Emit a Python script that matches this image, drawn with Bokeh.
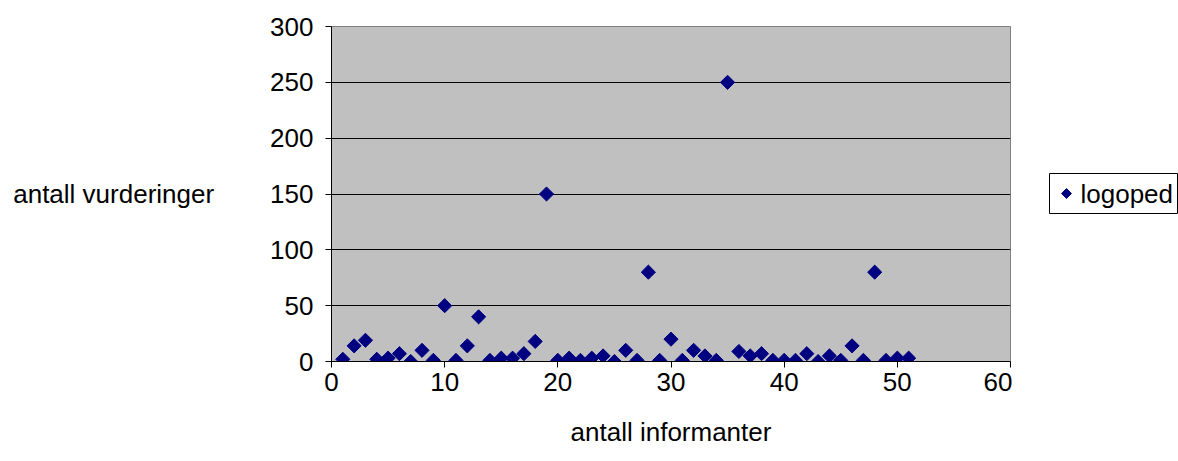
import math
from bokeh.plotting import figure
from bokeh.layouts import row
from bokeh.models import ColumnDataSource, FixedTicker, Range1d
from bokeh.core.properties import value
from bokeh.embed import file_html
from bokeh.resources import INLINE

# informant number and number of assessments per informant
informanter = list(range(1, 52))
vurderinger = [2, 14, 19, 2, 3, 7, 0, 10, 1, 50,
               1, 14, 40, 1, 3, 3, 7, 18, 150, 1,
               3, 1, 3, 5, 0, 10, 1, 80, 1, 20,
               1, 10, 5, 1, 250, 9, 5, 7, 1, 1,
               1, 7, 0, 5, 1, 14, 1, 80, 1, 3, 3]
serie_navn = "logoped"
x_ticks = [0, 10, 20, 30, 40, 50, 60]
y_ticks = [0, 50, 100, 150, 200, 250, 300]

FONT = "Liberation Sans"
FS = "26px"
NAVY = "#000080"
TOP, BOTTOM = 26, 100

src = ColumnDataSource(data=dict(x=informanter, y=vurderinger))

# main scatter chart
p = figure(width=1012, height=461, output_backend="svg", toolbar_location=None,
           x_range=Range1d(0, 60), y_range=Range1d(0, 300),
           min_border_left=331, min_border_right=2,
           min_border_top=TOP, min_border_bottom=BOTTOM)
p.background_fill_color = "#C0C0C0"
p.border_fill_color = "white"
p.outline_line_color = "#808080"
p.outline_line_width = 1

# square markers turned 45 degrees give the diamond shape
r = p.scatter("x", "y", source=src, marker="square", size=10, angle=math.pi / 4,
              fill_color=NAVY, line_color=NAVY)

for ax in (p.xaxis[0], p.yaxis[0]):
    ax.axis_line_color = "black"
    ax.major_tick_line_color = "black"
    ax.major_tick_out = 6
    ax.major_tick_in = 0
    ax.minor_tick_line_color = None
    ax.major_label_text_font = FONT
    ax.major_label_text_font_size = FS
    ax.major_label_text_color = "black"
    ax.axis_label_text_font = FONT
    ax.axis_label_text_font_size = FS
    ax.axis_label_text_font_style = "normal"
    ax.axis_label_text_color = "black"

p.xaxis.ticker = FixedTicker(ticks=x_ticks)
p.yaxis.ticker = FixedTicker(ticks=y_ticks)
p.xaxis.major_label_standoff = 5
p.yaxis.major_label_standoff = 12

p.xaxis.axis_label = "antall informanter"
p.xaxis.axis_label_standoff = 23

p.yaxis.axis_label = "antall vurderinger"
p.yaxis.axis_label_orientation = "horizontal"
p.yaxis.axis_label_standoff = 53
p.yaxis.axis_label_text_baseline = "alphabetic"

p.xgrid.grid_line_color = None
p.ygrid.grid_line_color = "black"
p.ygrid.grid_line_width = 1

# legend panel to the right of the chart; its frame shares the chart's
# top/bottom borders, so y runs in page pixels from TOP to 461 - BOTTOM
lg = figure(width=166, height=461, output_backend="svg", toolbar_location=None,
            x_range=Range1d(0, 166), y_range=Range1d(461 - BOTTOM, TOP),
            x_axis_type=None, y_axis_type=None,
            min_border_left=0, min_border_right=0,
            min_border_top=TOP, min_border_bottom=BOTTOM)
lg.grid.visible = False
lg.outline_line_color = None
lg.background_fill_color = "white"
lg.border_fill_color = "white"

lg.quad(left=[37], right=[165], top=[173], bottom=[213],
        fill_color="white", line_color="black", line_width=1)
lg.scatter(x=[54], y=[193], marker="square", size=7, angle=math.pi / 4,
           fill_color=NAVY, line_color=NAVY)
lg.text(x=[68], y=[193], text=[serie_navn], text_font=value(FONT),
        text_font_size=FS, text_color="black",
        text_align="left", text_baseline="middle")

layout = row(p, lg, spacing=0)

open("out.html", "w").write(file_html(layout, INLINE))
